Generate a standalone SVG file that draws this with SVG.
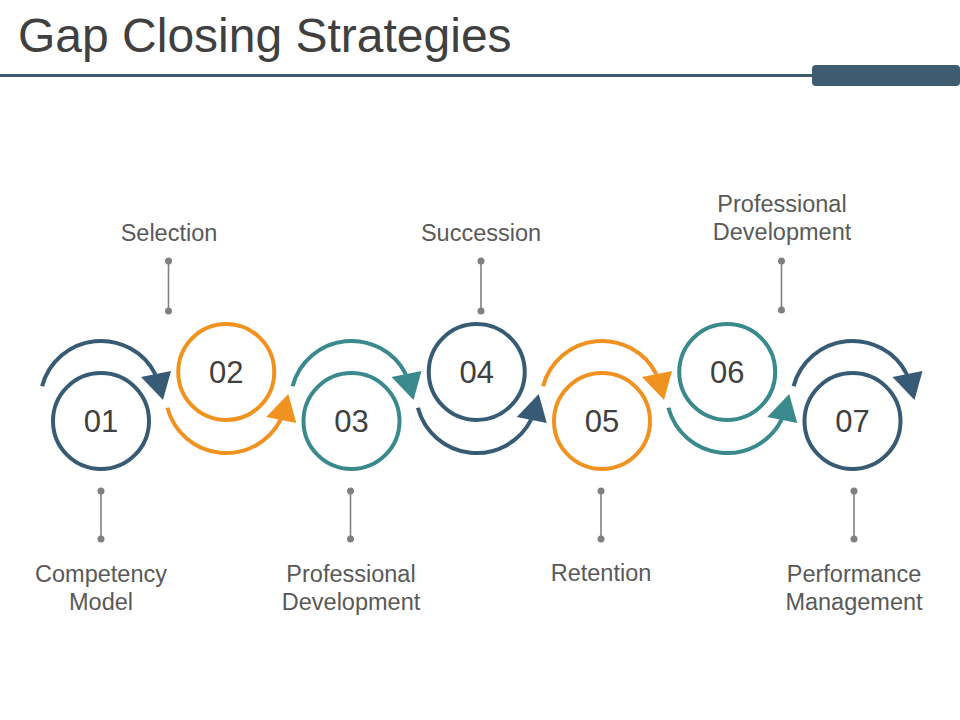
<svg xmlns="http://www.w3.org/2000/svg" width="960" height="720" viewBox="0 0 960 720">
<style>
.lbl{font-family:"Liberation Sans",Arial,sans-serif;font-size:23.5px;fill:#595959;text-anchor:middle}
.num{font-family:"Liberation Sans",Arial,sans-serif;font-size:31px;fill:#404040;text-anchor:middle}
.ring{fill:#fff;stroke-width:4}
.arc{fill:none;stroke-width:4}
.pin{stroke:#808080;stroke-width:1.6}
.dot{fill:#808080}
.navy{stroke:#375B74}
.orange{stroke:#F0921F}
.teal{stroke:#3A898C}
.fnavy{fill:#375B74}
.forange{fill:#F0921F}
.fteal{fill:#3A898C}
</style>
<rect width="960" height="720" fill="#fff"/>
<g id="title">
<text x="18" y="52" font-family="'Liberation Sans',Arial,sans-serif" font-size="48" fill="#404040">Gap Closing Strategies</text>
<line x1="0" y1="75.5" x2="815" y2="75.5" stroke="#3E5C70" stroke-width="3"/>
<rect x="812" y="65" width="148" height="21" rx="4" fill="#3E5C70"/>
</g>
<g id="connectors">
<path class="arc navy" d="M42.1,386.2 A61,61 0 0 1 155.4,374.3"/>
<polygon class="fnavy" points="141,377 171,371 163,400"/>
<path class="arc teal" d="M292.6,386.2 A61,61 0 0 1 405.9,374.3"/>
<polygon class="fteal" points="391.5,377 421.5,371 413.5,400"/>
<path class="arc orange" d="M543.1,386.2 A61,61 0 0 1 656.4,374.3"/>
<polygon class="forange" points="642,377 672,371 664,400"/>
<path class="arc navy" d="M793.6,386.2 A61,61 0 0 1 906.9,374.3"/>
<polygon class="fnavy" points="892.5,377 922.5,371 914.5,400"/>
<path class="arc orange" d="M167.35,407.8 A61,61 0 0 0 280.65,419.7"/>
<polygon class="forange" points="266.25,417 296.25,423 288.25,394"/>
<path class="arc navy" d="M417.85,407.8 A61,61 0 0 0 531.15,419.7"/>
<polygon class="fnavy" points="516.75,417 546.75,423 538.75,394"/>
<path class="arc teal" d="M668.35,407.8 A61,61 0 0 0 781.65,419.7"/>
<polygon class="fteal" points="767.25,417 797.25,423 789.25,394"/>
<line class="pin" x1="168.5" y1="261" x2="168.5" y2="311"/>
<circle class="dot" cx="168.5" cy="261" r="3.5"/><circle class="dot" cx="168.5" cy="311" r="3.5"/>
<line class="pin" x1="481" y1="261" x2="481" y2="311"/>
<circle class="dot" cx="481" cy="261" r="3.5"/><circle class="dot" cx="481" cy="311" r="3.5"/>
<line class="pin" x1="781.5" y1="261" x2="781.5" y2="310"/>
<circle class="dot" cx="781.5" cy="261" r="3.5"/><circle class="dot" cx="781.5" cy="310" r="3.5"/>
<line class="pin" x1="101" y1="491" x2="101" y2="539"/>
<circle class="dot" cx="101" cy="491" r="3.5"/><circle class="dot" cx="101" cy="539" r="3.5"/>
<line class="pin" x1="350.5" y1="491" x2="350.5" y2="539"/>
<circle class="dot" cx="350.5" cy="491" r="3.5"/><circle class="dot" cx="350.5" cy="539" r="3.5"/>
<line class="pin" x1="601" y1="491" x2="601" y2="539"/>
<circle class="dot" cx="601" cy="491" r="3.5"/><circle class="dot" cx="601" cy="539" r="3.5"/>
<line class="pin" x1="854" y1="491" x2="854" y2="539"/>
<circle class="dot" cx="854" cy="491" r="3.5"/><circle class="dot" cx="854" cy="539" r="3.5"/>
</g>
<g id="node01"><circle class="ring navy" cx="101" cy="421" r="48"/><text class="num" x="101" y="432">01</text><text class="lbl" x="101" y="582">Competency</text><text class="lbl" x="101" y="610">Model</text></g>
<g id="node02"><circle class="ring orange" cx="226.25" cy="372" r="48"/><text class="num" x="226.25" y="383">02</text><text class="lbl" x="169" y="241">Selection</text></g>
<g id="node03"><circle class="ring teal" cx="351.5" cy="421" r="48"/><text class="num" x="351.5" y="432">03</text><text class="lbl" x="351" y="582">Professional</text><text class="lbl" x="351" y="610">Development</text></g>
<g id="node04"><circle class="ring navy" cx="476.75" cy="372" r="48"/><text class="num" x="476.75" y="383">04</text><text class="lbl" x="481" y="241">Succession</text></g>
<g id="node05"><circle class="ring orange" cx="602" cy="421" r="48"/><text class="num" x="602" y="432">05</text><text class="lbl" x="601" y="581">Retention</text></g>
<g id="node06"><circle class="ring teal" cx="727.25" cy="372" r="48"/><text class="num" x="727.25" y="383">06</text><text class="lbl" x="782" y="212">Professional</text><text class="lbl" x="782" y="240">Development</text></g>
<g id="node07"><circle class="ring navy" cx="852.5" cy="421" r="48"/><text class="num" x="852.5" y="432">07</text><text class="lbl" x="854" y="582">Performance</text><text class="lbl" x="854" y="610">Management</text></g>
</svg>
